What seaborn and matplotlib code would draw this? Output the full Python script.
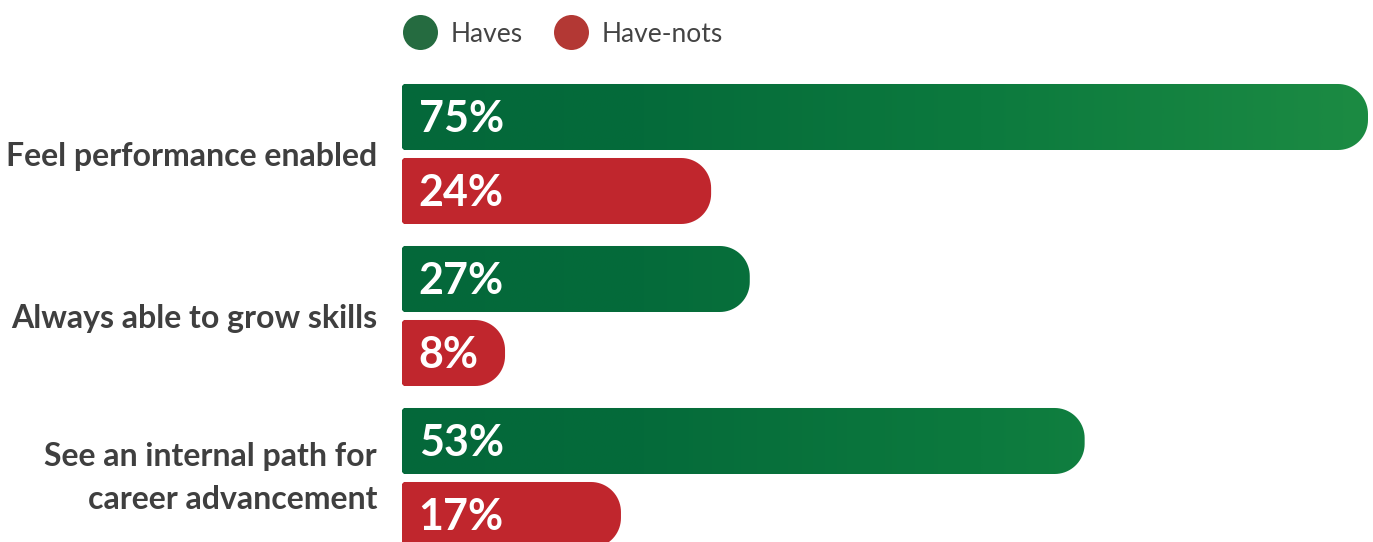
import numpy as np
import pandas as pd
import matplotlib
matplotlib.use("Agg")
import matplotlib.pyplot as plt
import seaborn as sns
from matplotlib.path import Path
from matplotlib.patches import PathPatch
from matplotlib.lines import Line2D
from matplotlib.colors import LinearSegmentedColormap

# ---- data ----
categories = ["Feel performance enabled", "Always able to grow skills",
              "See an internal path for\ncareer advancement"]
series = ["Haves", "Have-nots"]
haves = [75, 27, 53]
have_nots = [24, 8, 17]

df = pd.DataFrame({
    "Category": categories * 2,
    "Series": [series[0]] * 3 + [series[1]] * 3,
    "Value": haves + have_nots,
})

sns.set_style("white")
plt.rcParams["font.family"] = ["Lato", "DejaVu Sans"]

W, H = 1373, 542
fig = plt.figure(figsize=(W / 100, H / 100), dpi=100)
ax = fig.add_axes([402 / W, 0, 966 / W, 1])

legend_cols = {"Haves": "#256B40", "Have-nots": "#B33834"}
sns.barplot(data=df, y="Category", x="Value", hue="Series", hue_order=series,
            orient="h", palette=legend_cols, width=0.9136, gap=0.108,
            dodge=True, legend=False, ax=ax)

ax.set_xlim(0, 75)
ax.set_ylim(2.3951, -0.9506)
for s in ax.spines.values():
    s.set_visible(False)
ax.set_xticks([])
ax.set_xlabel("")
ax.set_ylabel("")
ax.tick_params(axis="y", length=0, pad=18)
for lbl in ax.get_yticklabels():
    lbl.set_fontweight("bold")
    lbl.set_fontsize(23)
    lbl.set_color("#3F3F3F")
    if "\n" in lbl.get_text():
        lbl.set_linespacing(1.6)
        lbl.set_verticalalignment("center")

fig.canvas.draw()
# pixel scales
p0 = ax.transData.transform((0, 0))
p1 = ax.transData.transform((1, 1))
sx = abs(p1[0] - p0[0])
sy = abs(p1[1] - p0[1])

green_cmap = LinearSegmentedColormap.from_list(
    "g", [(0, "#04683A"), (0.25, "#056B3A"), (0.6, "#0C7A3E"), (1, "#1C8B43")])
red_cmap = LinearSegmentedColormap.from_list(
    "r", [(0, "#C0262D"), (0.7, "#C1282E"), (1, "#C9332F")])
cmaps = {"Haves": green_cmap, "Have-nots": red_cmap}

grad = np.linspace(0, 1, 512).reshape(1, -1)
r_px = 30
rl_px = 2

def rounded_path(x0, y0, w, h):
    x1 = x0 + w
    ya, yb = y0, y0 + h
    rx = r_px / sx
    ry = r_px / sy
    lx = rl_px / sx
    ly = rl_px / sy
    pts = []
    pts.append((x0 + lx, ya))
    th = np.linspace(-np.pi / 2, 0, 20)
    for t in th:
        pts.append((x1 - rx + rx * np.cos(t), ya + ry + ry * np.sin(t)))
    th = np.linspace(0, np.pi / 2, 20)
    for t in th:
        pts.append((x1 - rx + rx * np.cos(t), yb - ry + ry * np.sin(t)))
    pts.append((x0 + lx, yb))
    pts.append((x0, yb - ly))
    pts.append((x0, ya + ly))
    pts.append((x0 + lx, ya))
    codes = [Path.MOVETO] + [Path.LINETO] * (len(pts) - 2) + [Path.CLOSEPOLY]
    return Path(pts, codes)

for name, cont in zip(series, ax.containers):
    for bar in cont:
        x0, y0 = bar.get_x(), bar.get_y()
        w, h = bar.get_width(), bar.get_height()
        bar.set_visible(False)
        path = rounded_path(x0, y0, w, h)
        patch = PathPatch(path, facecolor="none", edgecolor="none")
        ax.add_patch(patch)
        im = ax.imshow(grad, cmap=cmaps[name], extent=(0, 75, y0 + h, y0),
                       aspect="auto", interpolation="bilinear", zorder=2)
        im.set_clip_path(patch)
        ax.annotate(f"{int(round(w))}%", (x0, y0 + h / 2), xytext=(12.0, -1.5),
                    textcoords="offset points", ha="left", va="center",
                    color="white", fontsize=31, fontweight="bold", zorder=3)

ax.set_xlim(0, 75)
ax.set_ylim(2.3951, -0.9506)

handles = [Line2D([], [], marker="o", ls="", markersize=25.2,
                  markerfacecolor=legend_cols[s], markeredgecolor="none")
           for s in series]
leg = fig.legend(handles, series, loc="center left",
                 bbox_to_anchor=(402 / W, 1 - 34 / H), ncol=2, frameon=False,
                 fontsize=19, handlelength=1.33, handletextpad=0.51,
                 columnspacing=1.17, borderpad=0, borderaxespad=0)
for t in leg.get_texts():
    t.set_color("#444444")

fig.savefig("out.png", dpi=100)
